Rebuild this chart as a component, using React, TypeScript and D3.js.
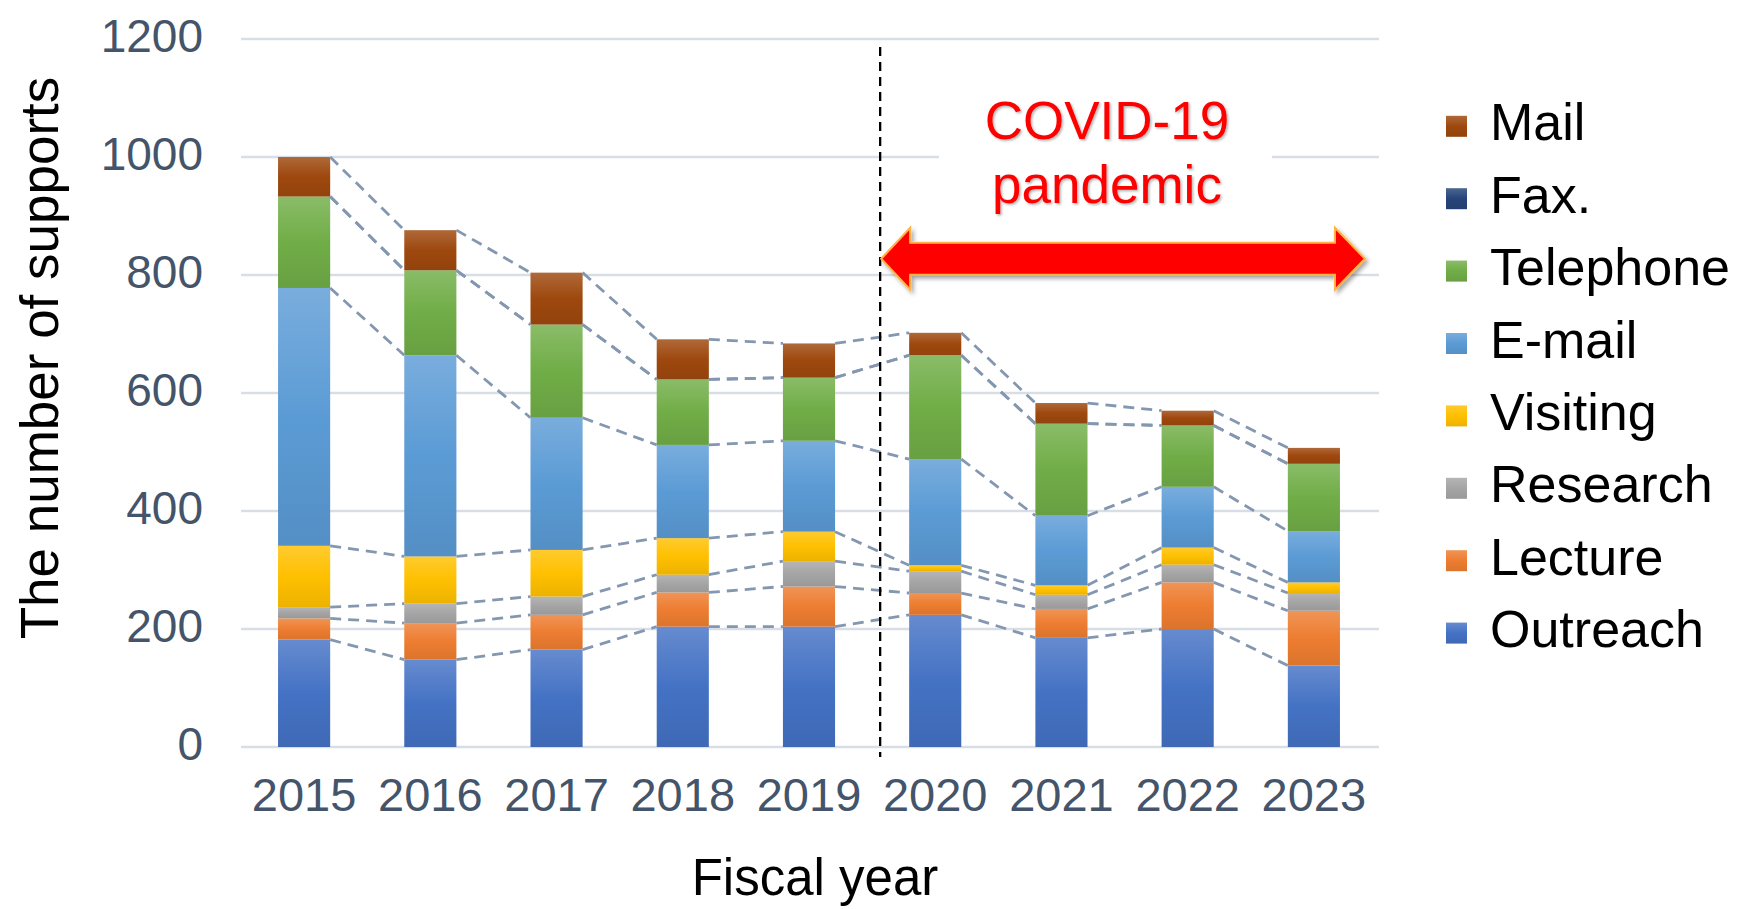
import React from "react";
import * as d3 from "d3";

// fiscal years on the x axis
const years = ["2015", "2016", "2017", "2018", "2019", "2020", "2021", "2022", "2023"];

// values per support type
const outreach = [182, 148, 165, 204, 204, 224, 185, 200, 138];
const lecture = [36, 62, 59, 58, 68, 37, 49, 79, 93];
const research = [19, 33, 31, 30, 43, 37, 24, 30, 30];
const visiting = [104, 80, 79, 62, 50, 10, 16, 29, 18];
const email = [437, 341, 224, 158, 154, 180, 118, 103, 87];
const telephone = [155, 144, 158, 111, 107, 176, 156, 104, 114];
const fax = [0, 0, 0, 0, 0, 0, 0, 0, 0];
const mail = [67, 68, 88, 68, 58, 38, 35, 25, 27];

const yTicks = [0, 200, 400, 600, 800, 1000, 1200];

// bottom to top stacking order
const seriesKeys = ["Outreach", "Lecture", "Research", "Visiting", "E-mail", "Telephone", "Fax.", "Mail"];
const seriesValues = [outreach, lecture, research, visiting, email, telephone, fax, mail];
const seriesColors = ["#4472C4", "#ED7D31", "#A5A5A5", "#FFC000", "#5B9BD5", "#70AD47", "#264478", "#9E480E"];

const W = 1748;
const H = 909;
const FONT = "'Liberation Sans', Arial, Helvetica, sans-serif";

export default function App() {
  const rows = years.map((year, i) => {
    const r: any = { year };
    seriesKeys.forEach((k, j) => (r[k] = seriesValues[j][i]));
    return r;
  });

  const stacked = d3.stack<any>().keys(seriesKeys)(rows);

  const x = d3.scaleBand<string>()
    .domain(years)
    .range([241, 1377])
    .paddingInner(0.587)
    .paddingOuter(0.2935);

  const y = d3.scaleLinear().domain([0, 1200]).range([747, 39]);

  const bw = x.bandwidth();
  const gradId = (i: number) => `grad-${i}`;

  // annotation positions derived from the band scale
  const splitX = (x("2020") as number) - 29;
  const arrowL = splitX + 1;
  const arrowR = (x("2023") as number) + bw + 25;
  const arrowY = 258.7;
  const textX = 1107;

  const arrowPath = [
    [arrowL, arrowY],
    [arrowL + 29, arrowY - 31],
    [arrowL + 29, arrowY - 16],
    [arrowR - 30, arrowY - 16],
    [arrowR - 30, arrowY - 31],
    [arrowR, arrowY],
    [arrowR - 30, arrowY + 31],
    [arrowR - 30, arrowY + 16],
    [arrowL + 29, arrowY + 16],
    [arrowL + 29, arrowY + 31],
  ];
  const arrowD = d3.line()(arrowPath as [number, number][]) + "Z";

  const legendOrder = [...seriesKeys].reverse();

  return (
    <svg
      width={W}
      height={H}
      style={{ position: "absolute", left: 0, top: 0, background: "#fff" }}
      fontFamily={FONT}
    >
      <defs>
        {seriesColors.map((c, i) => (
          <linearGradient key={i} id={gradId(i)} x1="0" y1="0" x2="0" y2="1">
            <stop offset="0%" stopColor={d3.interpolateRgb(c, "#ffffff")(0.18)} />
            <stop offset="50%" stopColor={c} />
            <stop offset="100%" stopColor={d3.color(c)!.darker(0.22).formatHex()} />
          </linearGradient>
        ))}
        <filter id="shadow" x="-10%" y="-30%" width="120%" height="170%">
          <feDropShadow dx="2.5" dy="3" stdDeviation="2" floodColor="#000" floodOpacity="0.35" />
        </filter>
        <filter id="tshadow" x="-10%" y="-20%" width="120%" height="140%">
          <feDropShadow dx="1.5" dy="1.5" stdDeviation="1" floodColor="#000" floodOpacity="0.3" />
        </filter>
      </defs>

      {/* gridlines */}
      <g>
        {yTicks.map((t) => (
          <line key={t} x1={241} x2={1379} y1={y(t)} y2={y(t)} stroke="#D9DEE6" strokeWidth={2.6} />
        ))}
      </g>

      {/* y tick labels */}
      <g fill="#44546A" fontSize={46} textAnchor="end">
        {yTicks.map((t) => (
          <text key={t} x={203} y={y(t) + 12.7}>{t}</text>
        ))}
      </g>

      {/* white box behind annotation text */}
      <rect x={939} y={80} width={333} height={135} fill="#fff" />

      {/* stacked bars */}
      {stacked.map((s, i) => (
        <g key={s.key} fill={`url(#${gradId(i)})`}>
          {s.map((d, j) => (
            <rect
              key={j}
              x={x(years[j])}
              y={y(d[1])}
              width={bw}
              height={Math.max(0, y(d[0]) - y(d[1]))}
            />
          ))}
        </g>
      ))}

      {/* series lines between bars */}
      <g fill="none" stroke="#8497B0" strokeWidth={2.8} strokeDasharray="11,7">
        {stacked.map((s) =>
          s.slice(0, -1).map((d, j) => (
            <line
              key={s.key + j}
              x1={(x(years[j]) as number) + bw}
              y1={y(d[1])}
              x2={x(years[j + 1]) as number}
              y2={y(s[j + 1][1])}
            />
          ))
        )}
      </g>

      {/* x tick labels */}
      <g fill="#44546A" fontSize={47} textAnchor="middle">
        {years.map((yr) => (
          <text key={yr} x={(x(yr) as number) + bw / 2} y={811}>{yr}</text>
        ))}
      </g>

      {/* axis titles */}
      <text x={815} y={895} fontSize={51} textAnchor="middle" fill="#000">Fiscal year</text>
      <text
        transform="translate(58,358) rotate(-90)"
        fontSize={53}
        textAnchor="middle"
        fill="#000"
      >
        The number of supports
      </text>

      {/* pandemic divider */}
      <line x1={splitX} x2={splitX} y1={47} y2={757} stroke="#000" strokeWidth={2.3} strokeDasharray="9,6" />

      {/* annotation */}
      <g fill="#FF0000" fontSize={53} textAnchor="middle" filter="url(#tshadow)">
        <text x={textX} y={139.3}>COVID-19</text>
        <text x={textX} y={203.3}>pandemic</text>
      </g>
      <path d={arrowD} fill="#FF0000" stroke="#FFB347" strokeWidth={2} strokeLinejoin="miter" filter="url(#shadow)" />

      {/* legend */}
      <g>
        {legendOrder.map((k, i) => {
          const idx = seriesKeys.indexOf(k);
          const cy = 126.3 + i * 72.4;
          return (
            <g key={k}>
              <rect x={1446} y={cy - 10.5} width={21} height={21} fill={`url(#${gradId(idx)})`} />
              <text x={1490} y={cy + 14} fontSize={52} fill="#000">{k}</text>
            </g>
          );
        })}
      </g>
    </svg>
  );
}
